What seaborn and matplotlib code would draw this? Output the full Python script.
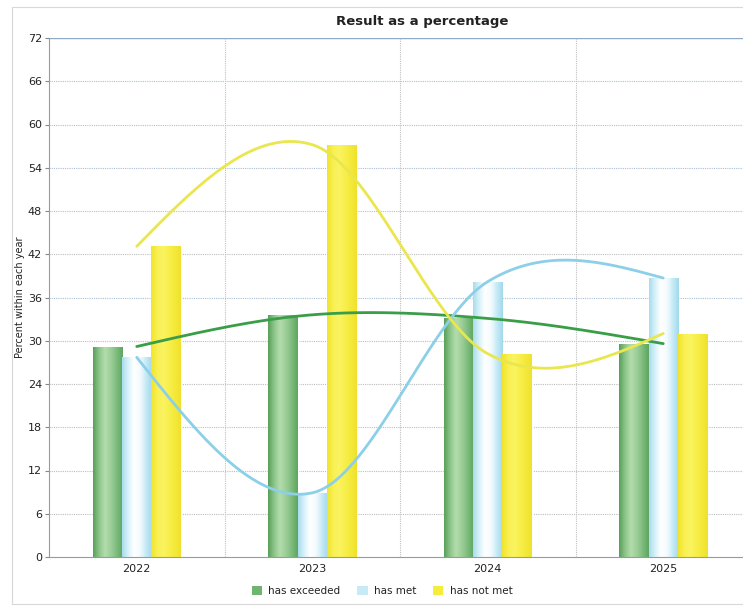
import numpy as np
import pandas as pd
import matplotlib
matplotlib.use("Agg")
import matplotlib.pyplot as plt
import seaborn as sns
from matplotlib.colors import LinearSegmentedColormap
from matplotlib.patches import Patch, Rectangle

years = ["2022", "2023", "2024", "2025"]
series = ["has exceeded", "has met", "has not met"]
has_exceeded = [29.2, 33.6, 33.1, 29.6]
has_met = [27.7, 8.9, 38.2, 38.7]
has_not_met = [43.1, 57.2, 28.2, 31.0]
y_ticks = [0, 6, 12, 18, 24, 30, 36, 42, 48, 54, 60, 66, 72]

df = pd.DataFrame({
    "year": years * 3,
    "series": [series[0]] * 4 + [series[1]] * 4 + [series[2]] * 4,
    "value": has_exceeded + has_met + has_not_met,
})

base_colors = {"has exceeded": "#74b874", "has met": "#c6ebf6", "has not met": "#f6ec3c"}
line_colors = {"has exceeded": "#3a9e48", "has met": "#8ccfe8", "has not met": "#e9e64e"}
grad = {
    "has exceeded": ["#5a9f5a", "#8cc68a", "#b4dcac", "#9ccf98", "#7dbb7c", "#5da660"],
    "has met": ["#a9dcee", "#d8f2fa", "#ffffff", "#f4fbfe", "#c7ebf6", "#a3d8ec"],
    "has not met": ["#f1e42e", "#f8ef50", "#fbf462", "#f8ef4c", "#f4e93a", "#f0e22c"],
}

sns.set_theme(style="white")
plt.rcParams["font.family"] = ["DejaVu Sans"]

fig = plt.figure(figsize=(7.43, 6.06), dpi=100)
ax = fig.add_axes([49 / 743, 1 - 557 / 606, (751 - 49) / 743, (557 - 38) / 606])

sns.barplot(data=df, x="year", y="value", hue="series", palette=base_colors,
            width=0.5, gap=0, saturation=1, ax=ax, legend=False, zorder=2)

# gradient shading for cylinder look
order = []
for s in series:
    order += [s] * len(years)
for patch, s in zip(ax.patches, order):
    x0, y0 = patch.get_x(), patch.get_y()
    w, h = patch.get_width(), patch.get_height()
    if h <= 0:
        continue
    cmap = LinearSegmentedColormap.from_list("g", grad[s])
    img = np.linspace(0, 1, 64).reshape(1, -1)
    im = ax.imshow(img, cmap=cmap, extent=[x0, x0 + w, y0, y0 + h],
                   aspect="auto", zorder=2.5, interpolation="bilinear")
    im.set_clip_path(patch)


def smooth_curve(xs, ys, n=60):
    xs = np.asarray(xs, float)
    ys = np.asarray(ys, float)
    m = len(xs)
    tang = np.empty(m)
    for i in range(1, m - 1):
        tang[i] = (ys[i + 1] - ys[i - 1]) / 2
    tang[0] = (3 * (ys[1] - ys[0]) - tang[1]) / 2
    tang[-1] = (3 * (ys[-1] - ys[-2]) - tang[-2]) / 2
    out_x, out_y = [], []
    for i in range(m - 1):
        t = np.linspace(0, 1, n)
        h00 = 2 * t ** 3 - 3 * t ** 2 + 1
        h10 = t ** 3 - 2 * t ** 2 + t
        h01 = -2 * t ** 3 + 3 * t ** 2
        h11 = t ** 3 - t ** 2
        out_x.append(xs[i] + t * (xs[i + 1] - xs[i]))
        out_y.append(h00 * ys[i] + h10 * tang[i] + h01 * ys[i + 1] + h11 * tang[i + 1])
    return np.concatenate(out_x), np.concatenate(out_y)


xpos = np.arange(len(years))
for s, vals in zip(series, [has_exceeded, has_met, has_not_met]):
    xx, yy = smooth_curve(xpos, vals)
    ax.plot(xx, yy, color=line_colors[s], lw=2.0, zorder=4, solid_capstyle="round")

ax.set_xlim(-0.5, 3.5)
ax.set_ylim(0, 72)
ax.set_yticks(y_ticks)
ax.set_xticks(xpos)
ax.set_xticklabels(years)
ax.tick_params(axis="y", which="major", length=3, width=0.8, color="#888888",
               labelsize=8, pad=2, labelcolor="#222222", left=True)
ax.tick_params(axis="x", which="both", length=0, labelsize=8, pad=5, labelcolor="#222222")
ax.grid(False)
for yt in y_ticks[1:-1]:
    gc = "#a9bfd6" if yt in (36, 54, 66) else "#bdbdbd"
    ax.axhline(yt, color=gc, lw=0.8, ls=(0, (1, 1)), zorder=1)
ax.axhline(72, color="#8fa9c8", lw=1.0, zorder=1)
for xm in [0.5, 1.5, 2.5]:
    ax.axvline(xm, color="#c0c0c0", lw=0.8, ls=(0, (1, 1)), zorder=1)

for sp in ["top", "right"]:
    ax.spines[sp].set_visible(False)
ax.spines["left"].set_color("#9a9a9a")
ax.spines["left"].set_linewidth(0.8)
ax.spines["bottom"].set_color("#9a9a9a")
ax.spines["bottom"].set_linewidth(0.8)
ax.set_xlabel("")
ax.set_ylabel("Percent within each year", fontsize=7, color="#222222", labelpad=2)

fig.text(422 / 743, 1 - 21 / 606, "Result as a percentage", ha="center", va="center",
         fontsize=9.5, fontweight="bold", color="#222222")

handles = [Patch(facecolor=c, edgecolor="none") for c in
           ["#6fb56f", "#c6ebf6", "#f6ec3c"]]
fig.legend(handles, series, loc="center", bbox_to_anchor=(382 / 743, 1 - 591 / 606),
           ncol=3, frameon=False, fontsize=7.5, handlelength=1.0, handleheight=1.0,
           handletextpad=0.6, columnspacing=1.6, labelcolor="#222222")

fig.patches.append(Rectangle((12 / 743, 1 - 604 / 606), 1.0, 597 / 606,
                             transform=fig.transFigure, fill=False,
                             edgecolor="#d8d8d8", lw=0.8, zorder=0))

fig.savefig("out.png", dpi=100)
